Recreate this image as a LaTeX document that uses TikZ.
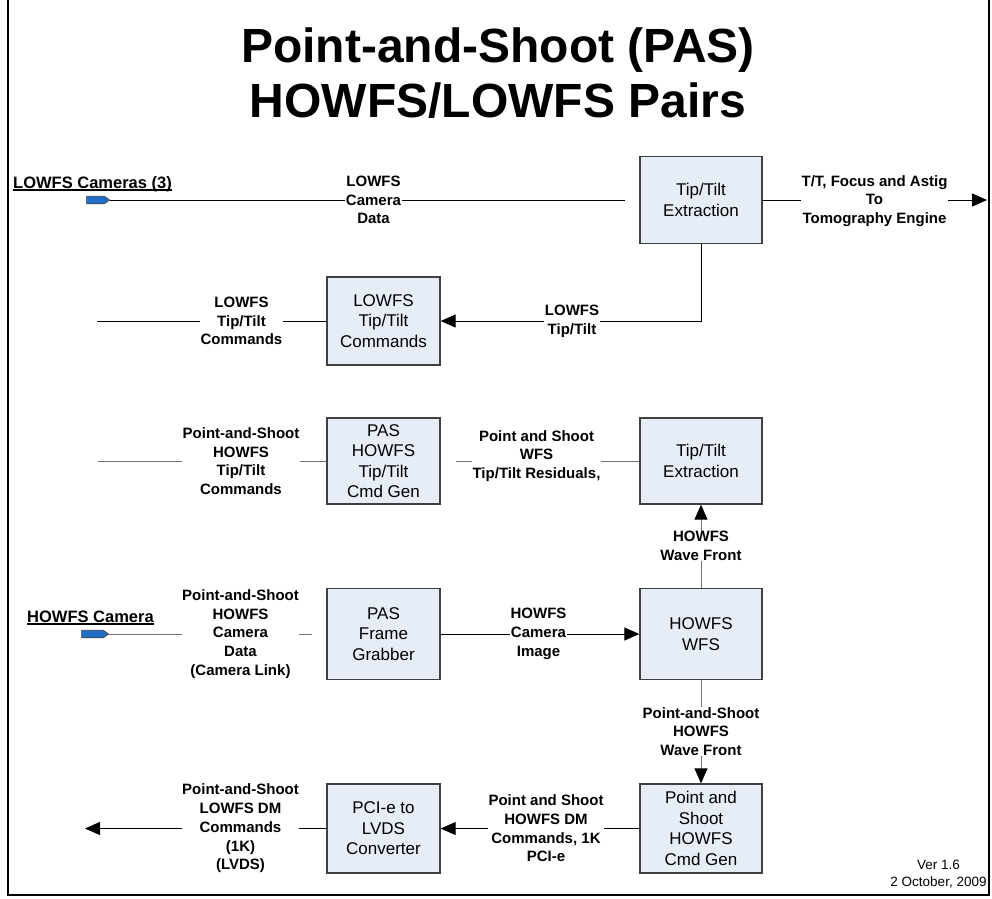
\documentclass[tikz,border=0pt]{standalone}
\usepackage{fontspec}
\setmainfont{Liberation Sans}
\usetikzlibrary{arrows.meta,shapes.symbols}

\definecolor{boxfill}{HTML}{E7EDF7}
\definecolor{boxedge}{HTML}{404040}
\definecolor{wire}{HTML}{707070}
\definecolor{portblue}{HTML}{1F6FC4}

% underlined heading text
\newcommand{\ulbox}[1]{\setbox0=\hbox{#1}\rlap{\rule[-2.5pt]{\wd0}{1.2pt}}\box0}

\tikzset{
  blk/.style={draw=boxedge, fill=boxfill, line width=1.3pt, align=center,
    inner sep=0pt, font=\fontsize{17}{20.5}\selectfont},
  tag/.style={fill=white, align=center, inner sep=0.5pt,
    font=\bfseries\fontsize{15}{18.7}\selectfont},
  link/.style={line width=1pt, draw=black},
  glink/.style={line width=1pt, draw=wire},
  arrowend/.style={-{Triangle[length=15pt,width=13pt,color=black]}},
  port/.style={signal, signal to=east, signal pointer angle=70, draw=boxedge,
    fill=portblue, line width=0.6pt, minimum height=7.5pt, inner sep=0pt},
  heading/.style={anchor=base west, inner sep=0pt, font=\bfseries\fontsize{16.5}{20}\selectfont},
  titletext/.style={anchor=base, inner sep=0pt, font=\bfseries\fontsize{48}{55}\selectfont},
}

\begin{document}
\begin{tikzpicture}[x=1pt,y=-1pt]
\useasboundingbox (0,0) rectangle (992,898);

% page frame
\draw[line width=2pt] (8,-2) -- (8,895) -- (989,895) -- (989,-2);

% title
\node[titletext] (title1) at (498,62) {Point-and-Shoot (PAS)};
\node[titletext] (title2) at (498,117) {HOWFS/LOWFS Pairs};

% processing blocks
\node[blk, minimum width=122pt, minimum height=87pt] (tt1) at (701,200) {Tip/Tilt\\Extraction};
\node[blk, minimum width=113pt, minimum height=88pt] (lcmd) at (383.5,321) {LOWFS\\Tip/Tilt\\Commands};
\node[blk, minimum width=113pt, minimum height=86pt] (pas) at (383.5,461) {PAS\\HOWFS\\Tip/Tilt\\Cmd Gen};
\node[blk, minimum width=122pt, minimum height=86pt] (tt2) at (701,461) {Tip/Tilt\\Extraction};
\node[blk, minimum width=113pt, minimum height=91pt] (fg) at (383.5,634) {PAS\\Frame\\Grabber};
\node[blk, minimum width=122pt, minimum height=91pt] (wfs) at (701,634) {HOWFS\\WFS};
\node[blk, minimum width=113pt, minimum height=89pt] (pci) at (383.5,828.5) {PCI-e to\\LVDS\\Converter};
\node[blk, minimum width=122pt, minimum height=89pt] (gen) at (701,828.5) {Point and\\Shoot\\HOWFS\\Cmd Gen};

% camera inputs
\node[heading] (lowcams) at (13,188) {\ulbox{LOWFS Cameras (3)}};
\node[port, minimum width=23pt] (port1) at (95.5,200) {};
\node[heading] (howcam) at (27,622) {\ulbox{HOWFS Camera}};
\node[port, minimum width=27pt] (port2) at (92.5,634) {};

% free line ends
\coordinate (tomoend) at (987,200);
\coordinate (lcmdend) at (97,321);
\coordinate (pasend) at (98,461);
\coordinate (lvdsend) at (85,828.5);

% connectors
\draw[link, shorten >=14pt] (port1.east) -- (tt1.west);
\draw[link, arrowend] (tt1.east) -- (tomoend);
\draw[link, arrowend] (tt1.south) |- (lcmd.east);
\draw[link] (lcmd.west) -- (lcmdend);
\draw[glink, shorten <=15pt] (pas.east) -- (tt2.west);
\draw[glink] (pas.west) -- (pasend);
\draw[glink, shorten >=14pt] (port2.east) -- (fg.west);
\draw[link, arrowend] (fg.east) -- (wfs.west);
\draw[glink, arrowend] (wfs.north) -- (tt2.south);
\draw[glink, arrowend] (wfs.south) -- (gen.north);
\draw[link, arrowend] (gen.west) -- (pci.east);
\draw[link, arrowend] (pci.west) -- (lvdsend);

% connector labels
\node[tag] (camdata) at (373.5,200) {LOWFS\\Camera\\Data};
\node[tag] (tomo) at (874.5,201) {T/T, Focus and Astig\\To\\Tomography Engine};
\node[tag] (lowtt) at (572,321) {LOWFS\\Tip/Tilt};
\node[tag] (lowcmd) at (241.5,321) {LOWFS\\Tip/Tilt\\Commands};
\node[tag] (resid) at (536.5,456) {Point and Shoot\\WFS\\Tip/Tilt Residuals,};
\node[tag] (pascmd) at (241,461) {Point-and-Shoot\\HOWFS\\Tip/Tilt\\Commands};
\node[tag] (howdata) at (240.5,634) {Point-and-Shoot\\HOWFS\\Camera\\Data\\(Camera Link)};
\node[tag] (camimg) at (538.5,634) {HOWFS\\Camera\\Image};
\node[tag] (wf) at (701,546) {HOWFS\\Wave Front};
\node[tag] (pawf) at (701,731.5) {Point-and-Shoot\\HOWFS\\Wave Front};
\node[tag] (dmcmd) at (546,828.5) {Point and Shoot\\HOWFS DM\\Commands, 1K\\PCI-e};
\node[tag] (lvds) at (240.5,828.5) {Point-and-Shoot\\LOWFS DM\\Commands\\(1K)\\(LVDS)};

% version stamp
\node[align=center, inner sep=0pt, font=\fontsize{13.5}{17}\selectfont] (ver) at (938.5,874.5) {Ver 1.6\\2 October, 2009};
\end{tikzpicture}
\end{document}
